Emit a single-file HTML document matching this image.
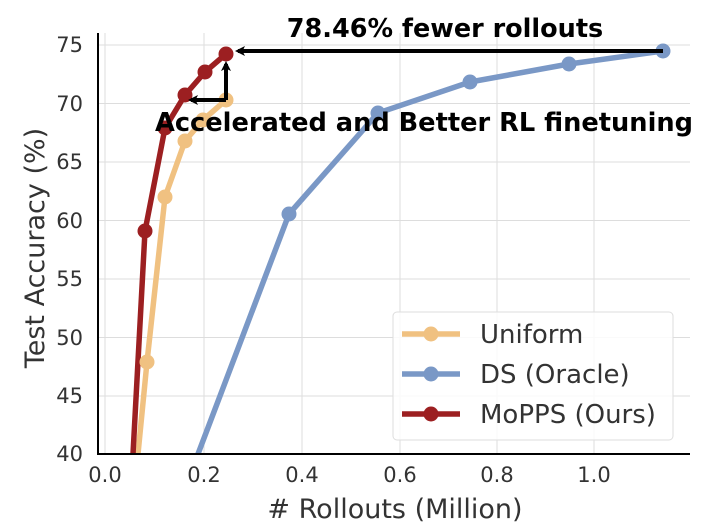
<!DOCTYPE html><html><head><style>body{margin:0;background:#fff}svg{display:block}text{font-family:"DejaVu Sans","Liberation Sans",sans-serif}</style></head><body>
<svg width="726" height="523" viewBox="0 0 726 523" xmlns="http://www.w3.org/2000/svg">
<defs><clipPath id="c"><rect x="98" y="30" width="592" height="424"/></clipPath>
<marker id="ah" markerWidth="10" markerHeight="10" refX="7" refY="5" orient="auto" markerUnits="userSpaceOnUse"><path d="M0,0 L10,5 L0,10 L2.5,5 Z" fill="#000"/></marker></defs>
<g stroke="#ddd" stroke-width="1">
<line x1="105" y1="33" x2="105" y2="454"/><line x1="204" y1="33" x2="204" y2="454"/><line x1="302" y1="33" x2="302" y2="454"/><line x1="400" y1="33" x2="400" y2="454"/><line x1="497" y1="33" x2="497" y2="454"/><line x1="594" y1="33" x2="594" y2="454"/>
<line x1="98" y1="45" x2="690" y2="45"/><line x1="98" y1="103.5" x2="690" y2="103.5"/><line x1="98" y1="162" x2="690" y2="162"/><line x1="98" y1="220.5" x2="690" y2="220.5"/><line x1="98" y1="279" x2="690" y2="279"/><line x1="98" y1="337.5" x2="690" y2="337.5"/><line x1="98" y1="396" x2="690" y2="396"/>
</g>
<g clip-path="url(#c)" stroke-width="5.5" fill="none" stroke-linejoin="round">
<polyline stroke="#7a98c6" points="198,454 289,214 378,113 470,82 569,64 663,51"/>
<polyline stroke="#f0c181" points="138,454 147,362 165,197 185,141 203,120 226,100"/>
<polyline stroke="#9c1f21" points="133,454 145,231 165,128 185,95 205,72 226,54"/>
</g>
<g clip-path="url(#c)">
<g fill="#7a98c6"><circle cx="289" cy="214" r="7.5"/><circle cx="378" cy="113" r="7.5"/><circle cx="470" cy="82" r="7.5"/><circle cx="569" cy="64" r="7.5"/><circle cx="663" cy="51" r="7.5"/></g>
<g fill="#f0c181"><circle cx="147" cy="362" r="7.5"/><circle cx="165" cy="197" r="7.5"/><circle cx="185" cy="141" r="7.5"/><circle cx="203" cy="120" r="7.5"/><circle cx="226" cy="100" r="7.5"/></g>
<g fill="#9c1f21"><circle cx="145" cy="231" r="7.5"/><circle cx="165" cy="128" r="7.5"/><circle cx="185" cy="95" r="7.5"/><circle cx="205" cy="72" r="7.5"/><circle cx="226" cy="54" r="7.5"/></g>
</g>
<g stroke="#000" stroke-width="4">
<line x1="663" y1="51" x2="238" y2="51" marker-end="url(#ah)"/>
<line x1="226" y1="100" x2="226" y2="64" marker-end="url(#ah)"/>
<line x1="226" y1="100" x2="191" y2="100" marker-end="url(#ah)"/>
</g>
<text x="445" y="37" font-size="25.5" font-weight="bold" text-anchor="middle" fill="#000">78.46% fewer rollouts</text>
<text x="424" y="131" font-size="25.5" font-weight="bold" text-anchor="middle" fill="#000" textLength="538" lengthAdjust="spacingAndGlyphs">Accelerated and Better RL finetuning</text>
<g stroke="#000" stroke-width="2"><line x1="98" y1="33" x2="98" y2="454"/><line x1="97" y1="454" x2="690" y2="454"/></g>
<g font-size="21" fill="#333" text-anchor="middle">
<text x="105" y="482">0.0</text><text x="204" y="482">0.2</text><text x="302" y="482">0.4</text><text x="400" y="482">0.6</text><text x="497" y="482">0.8</text><text x="594" y="482">1.0</text>
</g>
<g font-size="21" fill="#333" text-anchor="end">
<text x="83" y="52">75</text><text x="83" y="111">70</text><text x="83" y="169">65</text><text x="83" y="228">60</text><text x="83" y="286">55</text><text x="83" y="345">50</text><text x="83" y="403">45</text><text x="83" y="461">40</text>
</g>
<text x="395" y="518" font-size="27" fill="#333" text-anchor="middle"># Rollouts (Million)</text>
<text transform="translate(44,248) rotate(-90)" font-size="27" fill="#333" text-anchor="middle">Test Accuracy (%)</text>
<rect x="393" y="312" width="280" height="128" rx="4" fill="#fff" fill-opacity="0.85" stroke="#ddd"/>
<g stroke-width="5.5"><line x1="402" y1="334" x2="460" y2="334" stroke="#f0c181"/><line x1="402" y1="374" x2="460" y2="374" stroke="#7a98c6"/><line x1="402" y1="414" x2="460" y2="414" stroke="#9c1f21"/></g>
<circle cx="431" cy="334" r="7.5" fill="#f0c181"/><circle cx="431" cy="374" r="7.5" fill="#7a98c6"/><circle cx="431" cy="414" r="7.5" fill="#9c1f21"/>
<g font-size="26" fill="#333"><text x="480" y="343">Uniform</text><text x="480" y="383">DS (Oracle)</text><text x="480" y="423">MoPPS (Ours)</text></g>
</svg></body></html>
